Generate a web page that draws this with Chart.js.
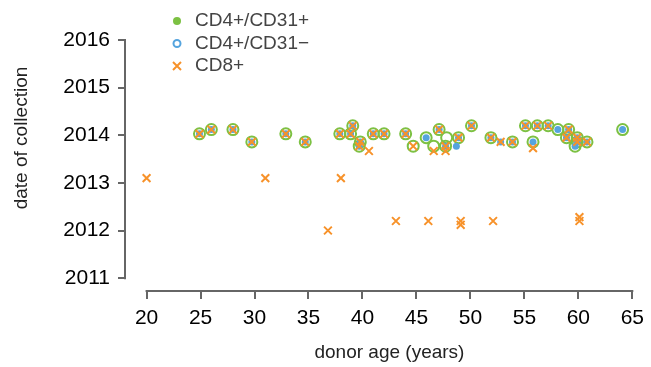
<!doctype html>
<html><head>
<meta charset="utf-8">
<title>donor age vs date of collection</title>
<script src="https://cdn.jsdelivr.net/npm/chart.js"></script>
<style>
  body { margin: 0; background: #fff; }
</style>
</head>
<body>
<canvas id="myChart" width="651" height="367"></canvas>
<script>
// tick values
const ageTicks = [20, 25, 30, 35, 40, 45, 50, 55, 60, 65];
const yearTicks = [2011, 2012, 2013, 2014, 2015, 2016];

// CD4+/CD31+
const cd31posAge = [24.9, 26.0, 28.0, 29.75, 32.9, 34.7, 37.9, 38.9, 39.1, 39.8, 39.7, 41.0, 42.0, 44.0, 44.7, 45.9, 46.6, 47.1, 47.7, 47.8, 48.9, 50.1, 51.9, 53.9, 55.1, 55.8, 56.2, 57.2, 58.1, 58.9, 59.1, 59.7, 59.9, 59.9, 60.8, 64.1];
const cd31posDate = [2014.03, 2014.12, 2014.12, 2013.86, 2014.03, 2013.86, 2014.03, 2014.03, 2014.2, 2013.86, 2013.77, 2014.03, 2014.03, 2014.03, 2013.77, 2013.95, 2013.77, 2014.12, 2013.77, 2013.95, 2013.95, 2014.2, 2013.95, 2013.86, 2014.2, 2013.86, 2014.2, 2014.2, 2014.12, 2013.95, 2014.12, 2013.77, 2013.95, 2013.86, 2013.86, 2014.12];

// CD4+/CD31-
const cd31negAge = [24.9, 26.0, 28.0, 29.75, 32.9, 34.7, 37.9, 38.9, 39.1, 39.8, 39.7, 41.0, 42.0, 44.0, 45.9, 47.1, 47.7, 48.7, 48.9, 50.1, 51.9, 52.8, 53.9, 55.1, 55.8, 56.2, 57.2, 58.1, 58.9, 59.1, 59.7, 59.9, 59.9, 60.8, 64.1];
const cd31negDate = [2014.03, 2014.12, 2014.12, 2013.86, 2014.03, 2013.86, 2014.03, 2014.03, 2014.2, 2013.86, 2013.77, 2014.03, 2014.03, 2014.03, 2013.95, 2014.12, 2013.77, 2013.77, 2013.95, 2014.2, 2013.95, 2013.86, 2013.86, 2014.2, 2013.86, 2014.2, 2014.2, 2014.12, 2013.95, 2014.12, 2013.77, 2013.95, 2013.86, 2013.86, 2014.12];

// CD8+
const cd8Age = [20.0, 24.9, 26.0, 28.0, 29.75, 31.0, 32.9, 34.7, 36.8, 37.9, 38.0, 38.9, 39.1, 39.8, 39.7, 40.6, 41.0, 42.0, 43.1, 44.0, 44.7, 46.1, 46.6, 47.1, 47.7, 47.7, 48.9, 49.1, 49.1, 50.1, 51.9, 52.1, 52.8, 53.9, 55.1, 55.8, 56.2, 57.2, 58.9, 59.1, 59.9, 59.9, 60.1, 60.1, 60.8];
const cd8Date = [2013.1, 2014.03, 2014.12, 2014.12, 2013.86, 2013.1, 2014.03, 2013.86, 2012.0, 2014.03, 2013.1, 2014.03, 2014.2, 2013.86, 2013.77, 2013.67, 2014.03, 2014.03, 2012.2, 2014.03, 2013.77, 2012.2, 2013.67, 2014.12, 2013.77, 2013.67, 2013.95, 2012.2, 2012.12, 2014.2, 2013.95, 2012.2, 2013.86, 2013.86, 2014.2, 2013.73, 2014.2, 2014.2, 2013.95, 2014.12, 2013.95, 2013.86, 2012.28, 2012.2, 2013.86];

const GREEN = '#7cc143';
const BLUE = '#55a4de';
const ORANGE = '#f7922a';
const FONT = "'Liberation Sans', Arial, Helvetica, sans-serif";

const pts = (xs, ys) => xs.map((x, i) => ({ x: x, y: ys[i] }));

// offset axis lines, titles and the legend block
const extras = {
  id: 'extras',
  afterDraw(chart) {
    const ctx = chart.ctx;
    const x = chart.scales.x, y = chart.scales.y;
    const area = chart.chartArea;
    ctx.save();
    ctx.strokeStyle = '#666';
    ctx.lineWidth = 2;
    ctx.beginPath();
    ctx.moveTo(x.getPixelForValue(ageTicks[0]) - 1, area.bottom);
    ctx.lineTo(x.getPixelForValue(ageTicks[ageTicks.length - 1]) + 1, area.bottom);
    ctx.moveTo(area.left, y.getPixelForValue(yearTicks[0]) + 1);
    ctx.lineTo(area.left, y.getPixelForValue(yearTicks[yearTicks.length - 1]) - 1);
    ctx.stroke();

    // axis titles
    ctx.fillStyle = '#222';
    ctx.font = '19px ' + FONT;
    ctx.textAlign = 'center';
    ctx.textBaseline = 'middle';
    ctx.fillText('donor age (years)', (x.getPixelForValue(20) + x.getPixelForValue(65)) / 2, 353);
    ctx.save();
    ctx.translate(22, 138);
    ctx.rotate(-Math.PI / 2);
    ctx.fillText('date of collection', 0, 0);
    ctx.restore();

    // legend
    const rows = [
      { label: 'CD4+/CD31+', y: 21 },
      { label: 'CD4+/CD31\u2212', y: 43.5 },
      { label: 'CD8+', y: 66 }
    ];
    const mx = 177;
    ctx.fillStyle = GREEN;
    ctx.beginPath();
    ctx.arc(mx, rows[0].y, 4, 0, Math.PI * 2);
    ctx.fill();
    ctx.strokeStyle = BLUE;
    ctx.lineWidth = 2;
    ctx.beginPath();
    ctx.arc(mx, rows[1].y, 3.5, 0, Math.PI * 2);
    ctx.stroke();
    ctx.strokeStyle = ORANGE;
    ctx.beginPath();
    ctx.moveTo(mx - 4, rows[2].y - 4); ctx.lineTo(mx + 4, rows[2].y + 4);
    ctx.moveTo(mx + 4, rows[2].y - 4); ctx.lineTo(mx - 4, rows[2].y + 4);
    ctx.stroke();
    ctx.fillStyle = '#444';
    ctx.textAlign = 'left';
    ctx.font = '19px ' + FONT;
    rows.forEach(r => ctx.fillText(r.label, 195, r.y));
    ctx.restore();
  }
};

const tickFont = { family: FONT, size: 21 };

new Chart(document.getElementById('myChart'), {
  type: 'scatter',
  data: {
    datasets: [
      {
        label: 'CD8+',
        data: pts(cd8Age, cd8Date),
        pointStyle: 'crossRot',
        radius: 5.5,
        borderWidth: 2,
        borderColor: ORANGE,
        backgroundColor: ORANGE,
        order: 0
      },
      {
        label: 'CD4+/CD31\u2212',
        data: pts(cd31negAge, cd31negDate),
        pointStyle: 'circle',
        radius: 3.5,
        borderWidth: 0,
        backgroundColor: BLUE,
        order: 1
      },
      {
        label: 'CD4+/CD31+',
        data: pts(cd31posAge, cd31posDate),
        pointStyle: 'circle',
        radius: 5.5,
        borderWidth: 2,
        borderColor: GREEN,
        backgroundColor: 'rgba(0,0,0,0)',
        order: 2
      }
    ]
  },
  options: {
    responsive: false,
    animation: false,
    layout: { padding: { top: 40, right: 15, left: 0, bottom: 0 } },
    plugins: { legend: { display: false }, tooltip: { enabled: false } },
    elements: { point: { hoverRadius: 5 } },
    scales: {
      x: {
        type: 'linear',
        min: 18,
        max: 65,
        afterBuildTicks: s => { s.ticks = ageTicks.map(v => ({ value: v })); },
        afterFit: s => { s.height = 76; },
        grid: { drawOnChartArea: false, tickLength: 8, color: '#666', lineWidth: 2 },
        border: { display: false },
        ticks: { font: tickFont, color: '#000', padding: 7, maxRotation: 0 }
      },
      y: {
        type: 'linear',
        min: 2010.73,
        max: 2016,
        afterBuildTicks: s => { s.ticks = yearTicks.map(v => ({ value: v })); },
        afterFit: s => { s.width = 125; },
        grid: { drawOnChartArea: false, tickLength: 7, color: '#666', lineWidth: 2 },
        border: { display: false },
        ticks: { font: tickFont, color: '#000', padding: 8, callback: v => String(v) }
      }
    }
  },
  plugins: [extras]
});
</script>
</body></html>
